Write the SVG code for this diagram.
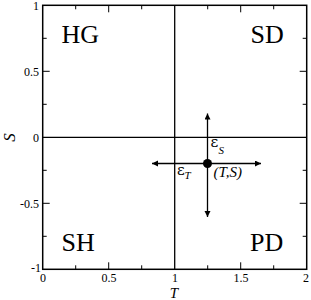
<svg xmlns="http://www.w3.org/2000/svg" width="311" height="300" viewBox="0 0 311 300" font-family="'DejaVu Serif', 'Liberation Serif', serif">
<style>
.tick{stroke:#000;stroke-width:1}
.arr{stroke:#000;stroke-width:1.3;fill:none}
</style>
<defs>
<marker id="ah" markerWidth="8" markerHeight="8" refX="6" refY="3" orient="auto" markerUnits="userSpaceOnUse">
<path d="M0,0 L6,3 L0,6 Z" fill="#000"/>
</marker>
</defs>
<rect width="311" height="300" fill="#fff"/>
<g id="frame">
<rect x="42.7" y="5.3" width="264" height="264" fill="none" stroke="#000" stroke-width="1.5"/>
<path class="tick" d="M75.7,5.3v4M108.7,5.3v7M141.7,5.3v4M207.7,5.3v4M240.7,5.3v7M273.7,5.3v4
M75.7,269.3v-4M108.7,269.3v-7M141.7,269.3v-4M207.7,269.3v-4M240.7,269.3v-7M273.7,269.3v-4
M42.7,38.3h4M42.7,71.3h7M42.7,104.3h4M42.7,170.3h4M42.7,203.3h7M42.7,236.3h4
M306.7,38.3h-4M306.7,71.3h-7M306.7,104.3h-4M306.7,170.3h-4M306.7,203.3h-7M306.7,236.3h-4"/>
<g font-family="Liberation Serif" font-size="12" text-anchor="end">
<text x="39" y="10">1</text>
<text x="39" y="76">0.5</text>
<text x="39" y="142">0</text>
<text x="39" y="208">-0.5</text>
<text x="41" y="272">-1</text>
</g>
<g font-family="Liberation Serif" font-size="12" text-anchor="middle">
<text x="43" y="282">0</text>
<text x="109" y="282">0.5</text>
<text x="175" y="282">1</text>
<text x="241" y="282">1.5</text>
<text x="306" y="282">2</text>
</g>
<text font-family="Liberation Serif" font-style="italic" x="174" y="298" font-size="15" text-anchor="middle">T</text>
<text font-family="Liberation Serif" font-style="italic" x="0" y="0" font-size="17" text-anchor="middle" transform="translate(14.5,137.5) rotate(-90)">S</text>
</g>
<g id="axes-lines">
<line x1="174.7" y1="5.3" x2="174.7" y2="269.3" stroke="#000" stroke-width="1.3"/>
<line x1="42.7" y1="137.3" x2="306.7" y2="137.3" stroke="#000" stroke-width="1.3"/>
</g>
<g id="quadrants" font-family="Liberation Serif" font-size="26">
<text x="61.5" y="43.3">HG</text>
<text x="250.5" y="43.3">SD</text>
<text x="61.5" y="251">SH</text>
<text x="250" y="251">PD</text>
</g>
<g id="connectors">
<line class="arr" x1="207.5" y1="163.5" x2="152" y2="163.5" marker-end="url(#ah)"/>
<line class="arr" x1="207.5" y1="163.5" x2="261" y2="163.5" marker-end="url(#ah)"/>
<line class="arr" x1="207.5" y1="163.5" x2="207.5" y2="113.5" marker-end="url(#ah)"/>
<line class="arr" x1="207.5" y1="163.5" x2="207.5" y2="217" marker-end="url(#ah)"/>
</g>
<g id="point">
<circle cx="207.5" cy="163.5" r="4.5" fill="#000"/>
<text font-family="Liberation Serif" font-style="italic" x="213.5" y="177" font-size="15">(T,S)</text>
</g>
<g id="eps-s">
<text x="210.5" y="147" font-size="15">ε</text>
<text font-family="Liberation Serif" font-style="italic" x="218.5" y="153.5" font-size="11">S</text>
</g>
<g id="eps-t">
<text x="177" y="175" font-size="15">ε</text>
<text font-family="Liberation Serif" font-style="italic" x="184.5" y="179" font-size="11">T</text>
</g>
</svg>
